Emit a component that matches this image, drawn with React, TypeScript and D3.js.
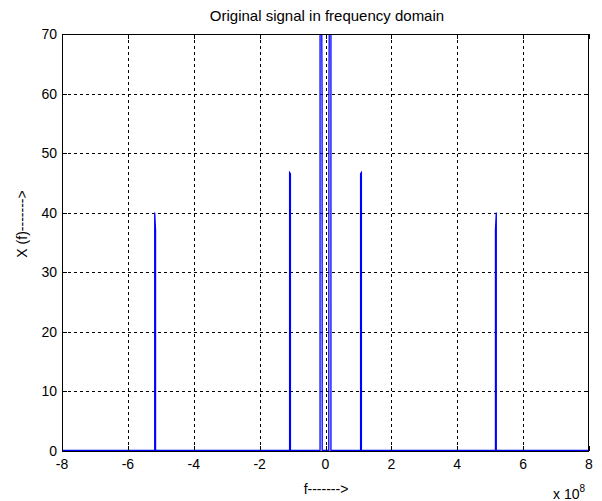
import React from "react";
import * as d3 from "d3";

const freqs = [-8, -5.185, -5.185, -5.16, -5.16, -1.09, -1.09, -1.065, -1.065, -0.165, -0.165, -0.108, -0.104, -0.1, 0.1, 0.104, 0.108, 0.165, 0.165, 1.065, 1.065, 1.09, 1.09, 5.16, 5.16, 5.185, 5.185, 8];
const mags = [0, 0, 40, 37, 0, 0, 46.7, 46.5, 0, 0, 120, 65, 59, 0, 0, 59, 65, 120, 0, 0, 46.5, 46.7, 0, 0, 37, 40, 0, 0];
const xTicks = [-8, -6, -4, -2, 0, 2, 4, 6, 8];
const yTicks = [0, 10, 20, 30, 40, 50, 60, 70];

const W = 602, H = 501;
const L = 62, R = 589, T = 34, B = 451;

export default function App() {
  const x = d3.scaleLinear().domain([-8, 8]).range([L, R]);
  const y = d3.scaleLinear().domain([0, 70]).range([B - 0.5, T]);
  const pts: [number, number][] = freqs.map((f, i) => [f, mags[i]]);
  const line = d3.line<[number, number]>().x(d => x(d[0])).y(d => y(d[1]));
  const font = "'Liberation Sans', Arial, sans-serif";
  return (
    <svg width={W} height={H} style={{ position: "absolute", left: 0, top: 0, background: "#fff" }} fontFamily={font}>
      <rect x={0} y={0} width={W} height={H} fill="#fff" />
      <defs>
        <clipPath id="plot">
          <rect x={L} y={T} width={R - L} height={B - T} />
        </clipPath>
      </defs>
      {xTicks.slice(1, -1).map(t => (
        <line key={"gx" + t} x1={Math.round(x(t)) + 0.5} x2={Math.round(x(t)) + 0.5} y1={T} y2={B} stroke="#000" strokeWidth={1} strokeDasharray="3,3" />
      ))}
      {yTicks.slice(1, -1).map(t => (
        <line key={"gy" + t} y1={Math.round(y(t)) + 0.5} y2={Math.round(y(t)) + 0.5} x1={L} x2={R} stroke="#000" strokeWidth={1} strokeDasharray="3,3" />
      ))}
      <path d={line(pts) || ""} fill="none" stroke="#0000ff" strokeWidth={1.3} clipPath="url(#plot)" />
      <rect x={L + 0.5} y={T + 0.5} width={R - L - 1} height={B - T} fill="none" stroke="#000" strokeWidth={1} />
      {xTicks.map(t => (
        <g key={"tx" + t}>
          <line x1={Math.round(x(t)) + 0.5} x2={Math.round(x(t)) + 0.5} y1={B} y2={B - 5} stroke="#000" />
          <line x1={Math.round(x(t)) + 0.5} x2={Math.round(x(t)) + 0.5} y1={T} y2={T + 5} stroke="#000" />
          <text x={x(t)} y={469} fontSize={14} textAnchor="middle" fill="#000">{t}</text>
        </g>
      ))}
      {yTicks.map(t => (
        <g key={"ty" + t}>
          <line x1={L} x2={L + 5} y1={Math.round(y(t)) + 0.5} y2={Math.round(y(t)) + 0.5} stroke="#000" />
          <line x1={R} x2={R - 5} y1={Math.round(y(t)) + 0.5} y2={Math.round(y(t)) + 0.5} stroke="#000" />
          <text x={57} y={y(t) + 5} fontSize={14} textAnchor="end" fill="#000">{t}</text>
        </g>
      ))}
      <text x={327} y={21} fontSize={15} textAnchor="middle" fill="#000">Original signal in frequency domain</text>
      <text x={326} y={494} fontSize={14} textAnchor="middle" fill="#000">f-------&gt;</text>
      <text x={553} y={499} fontSize={14} fill="#000">x 10<tspan dy={-7} fontSize={10}>8</tspan></text>
      <text transform="translate(27,224) rotate(-90)" fontSize={14} textAnchor="middle" fill="#000">X (f)-------&gt;</text>
    </svg>
  );
}
